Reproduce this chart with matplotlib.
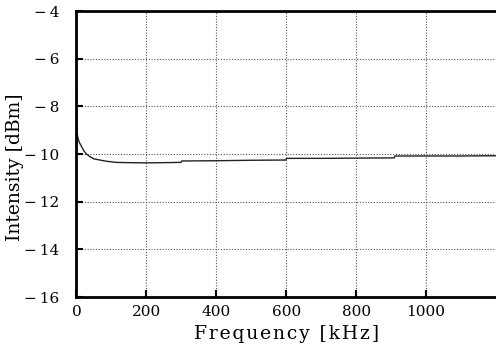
import numpy as np
import matplotlib.pyplot as plt

# spectrum trace
freq_khz = [0, 0.5, 1, 2, 4, 8, 15, 22, 29, 40, 50, 67, 85, 115, 150, 200, 250,
            299, 301, 400, 500, 599, 601, 700, 800, 909, 911, 1000, 1100, 1200]
intensity_dbm = [-4.0, -7.0, -8.6, -9.13, -9.3, -9.5, -9.69, -9.88, -10.0, -10.12,
                 -10.2, -10.25, -10.3, -10.35, -10.36, -10.37, -10.36,
                 -10.35, -10.29, -10.28, -10.26, -10.25, -10.18, -10.18, -10.17, -10.16,
                 -10.08, -10.08, -10.08, -10.07]

x_ticks = [0, 200, 400, 600, 800, 1000]
y_ticks = [-4, -6, -8, -10, -12, -14, -16]

plt.rcParams['font.family'] = ['DejaVu Serif']

fig = plt.figure(figsize=(4.96, 3.47), dpi=100)
ax = fig.add_axes([0.154, 0.144, 0.846, 0.824])

ax.plot(freq_khz, intensity_dbm, color='#222222', lw=1.0)

ax.set_xlim(0, 1200)
ax.set_ylim(-16, -4)
ax.set_xticks(x_ticks)
ax.set_yticks(y_ticks)
ax.set_yticklabels(['\u2212\u2009' + str(abs(v)) for v in y_ticks])
ax.tick_params(direction='in', length=5, width=1.5, labelsize=11)
ax.tick_params(axis='y', pad=12)
ax.tick_params(axis='x', pad=6)

ax.grid(True, color='#555555', linestyle=(0, (1, 1.5)), lw=0.8)
for side in ['left', 'bottom', 'top']:
    ax.spines[side].set_linewidth(2)
ax.spines['right'].set_visible(False)

# a little extra letter spacing on the axis titles
xlab = '\u200a'.join('Frequency [kHz]')
ax.set_xlabel(xlab, fontsize=13.5, labelpad=4)
ax.set_ylabel('Intensity [dBm]', fontsize=13.5)
ax.yaxis.set_label_coords(-0.125, 0.453)

fig.savefig('out.png', dpi=100)
